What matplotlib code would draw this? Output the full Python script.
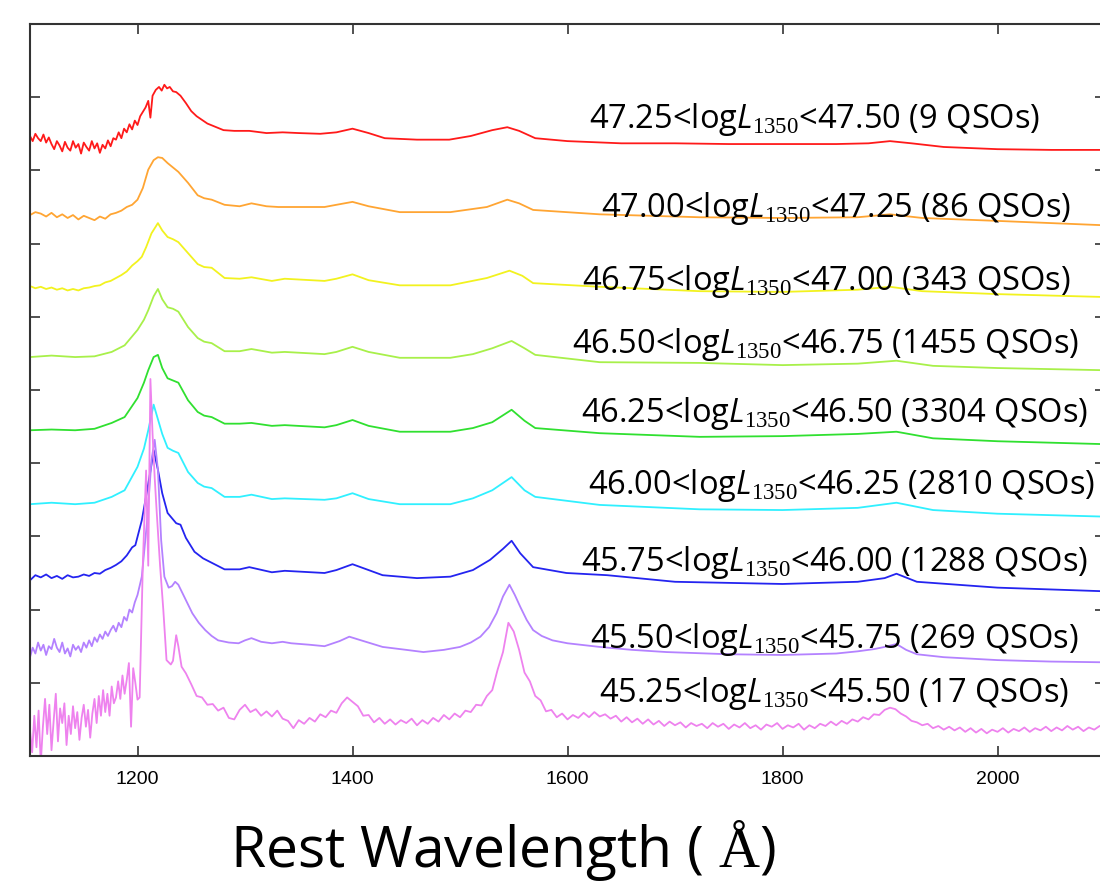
import numpy as np
import matplotlib.pyplot as plt

plt.rcParams['mathtext.fontset'] = 'custom'
plt.rcParams['mathtext.rm'] = 'Liberation Serif'
plt.rcParams['mathtext.it'] = 'Open Sans:italic'
plt.rcParams['mathtext.bf'] = 'Liberation Serif:bold'

# luminosity bins (top to bottom) and number of quasars in each
bin_lo = ["47.25", "47.00", "46.75", "46.50", "46.25", "46.00", "45.75", "45.50", "45.25"]
bin_hi = ["47.50", "47.25", "47.00", "46.75", "46.50", "46.25", "46.00", "45.75", "45.50"]
n_qso = [9, 86, 343, 1455, 3304, 2810, 1288, 269, 17]
colors = ['#ff1a1a', '#ffa533', '#f2f21f', '#a8f04a', '#30e030',
          '#30f0ff', '#2424f0', '#b482ff', '#ee82ee']

# label anchor (right end wavelength, baseline in offset flux units)
label_wave = [2040, 2068, 2068, 2076, 2084, 2091, 2084, 2075, 2066]
label_flux = [8.58, 7.36, 6.37, 5.51, 4.56, 3.58, 2.53, 1.48, 0.74]

# ---- composite spectra, offset flux ----
# red: noisy blue side, step 2.5 A from 1100 to 1210
red_blue = [8.47, 8.40, 8.50, 8.44, 8.40, 8.49, 8.38, 8.45, 8.36, 8.29,
            8.40, 8.34, 8.26, 8.39, 8.31, 8.27, 8.40, 8.31, 8.36, 8.23,
            8.38, 8.32, 8.27, 8.40, 8.30, 8.37, 8.24, 8.35, 8.30, 8.41,
            8.33, 8.44, 8.42, 8.52, 8.44, 8.57, 8.52, 8.63, 8.56, 8.68,
            8.62, 8.74, 8.80, 8.86, 8.95]
red_w = [1212, 1214, 1217, 1220, 1222.5, 1225, 1227.5, 1230, 1233, 1236, 1240, 1245,
         1250, 1255, 1260, 1265, 1270, 1280, 1290, 1304, 1320, 1335, 1350, 1370, 1385,
         1400, 1415, 1430, 1460, 1490, 1510, 1530, 1544, 1555, 1570, 1600, 1650, 1700,
         1750, 1800, 1850, 1880, 1900, 1920, 1950, 2000, 2050, 2100]
red_f = [8.72, 9.02, 9.10, 9.14, 9.09, 9.17, 9.12, 9.14, 9.08, 9.07, 9.02, 8.92,
         8.81, 8.74, 8.69, 8.64, 8.61, 8.55, 8.54, 8.54, 8.51, 8.52, 8.51, 8.50, 8.52,
         8.57, 8.51, 8.44, 8.42, 8.42, 8.47, 8.55, 8.59, 8.54, 8.44, 8.40, 8.37, 8.37,
         8.36, 8.36, 8.36, 8.37, 8.40, 8.37, 8.32, 8.29, 8.28, 8.28]

# orange: blue side step 5 A from 1100 to 1195
orange_blue = [7.39, 7.43, 7.41, 7.37, 7.42, 7.36, 7.40, 7.35, 7.39, 7.33,
               7.38, 7.35, 7.32, 7.37, 7.34, 7.40, 7.42, 7.45, 7.50, 7.53]
orange_w = [1200, 1205, 1210, 1215, 1219, 1223, 1228, 1233, 1238, 1247, 1256, 1262,
            1269, 1281, 1295, 1306, 1320, 1331, 1350, 1374, 1385, 1400, 1415, 1444,
            1491, 1525, 1544, 1555, 1568, 1630, 1723, 1800, 1870, 1900, 1930, 2000, 2100]
orange_f = [7.60, 7.76, 8.01, 8.14, 8.18, 8.17, 8.10, 8.04, 7.98, 7.83, 7.66, 7.62,
            7.60, 7.53, 7.51, 7.55, 7.51, 7.50, 7.50, 7.50, 7.53, 7.57, 7.51, 7.43,
            7.43, 7.50, 7.60, 7.55, 7.46, 7.40, 7.36, 7.35, 7.36, 7.40, 7.35, 7.31, 7.25]

# yellow: blue side step 5 A from 1100 to 1195
yellow_blue = [6.42, 6.39, 6.41, 6.38, 6.40, 6.37, 6.39, 6.36, 6.38, 6.36,
               6.39, 6.40, 6.42, 6.43, 6.47, 6.49, 6.53, 6.57, 6.62, 6.70]
yellow_w = [1200, 1204, 1208, 1213, 1219, 1223, 1228, 1233, 1238, 1247, 1256, 1262,
            1269, 1281, 1295, 1306, 1325, 1337, 1374, 1385, 1400, 1415, 1444, 1491,
            1525, 1546, 1558, 1568, 1630, 1723, 1800, 1870, 1900, 1930, 2000, 2100]
yellow_f = [6.76, 6.82, 6.95, 7.14, 7.28, 7.18, 7.09, 7.06, 7.02, 6.87, 6.72, 6.68,
            6.67, 6.53, 6.52, 6.54, 6.49, 6.52, 6.49, 6.52, 6.58, 6.50, 6.43, 6.43,
            6.53, 6.63, 6.56, 6.46, 6.41, 6.35, 6.34, 6.37, 6.41, 6.35, 6.31, 6.27]

# common wavelengths for the three smooth middle spectra
mid_w = [1100, 1120, 1142, 1160, 1176, 1188, 1200, 1206, 1210, 1215, 1219, 1223, 1228,
         1233, 1238, 1247, 1256, 1262, 1269, 1281, 1295, 1306, 1325, 1337, 1374, 1385,
         1400, 1415, 1444, 1491, 1512, 1530, 1548, 1560, 1570, 1630, 1723, 1800, 1870,
         1906, 1940, 2000, 2100]
ygreen_f = [5.45, 5.47, 5.45, 5.46, 5.52, 5.61, 5.82, 5.96, 6.09, 6.28, 6.38, 6.24, 6.13,
            6.11, 6.07, 5.86, 5.71, 5.66, 5.64, 5.53, 5.53, 5.56, 5.51, 5.52, 5.49, 5.52,
            5.59, 5.52, 5.44, 5.44, 5.49, 5.57, 5.67, 5.57, 5.48, 5.38, 5.37, 5.34, 5.36,
            5.40, 5.33, 5.30, 5.27]
green_f = [4.45, 4.46, 4.45, 4.47, 4.55, 4.63, 4.89, 5.10, 5.27, 5.45, 5.48, 5.30, 5.16,
           5.13, 5.10, 4.86, 4.70, 4.65, 4.63, 4.54, 4.54, 4.55, 4.51, 4.52, 4.49, 4.52,
           4.59, 4.51, 4.43, 4.43, 4.48, 4.56, 4.73, 4.58, 4.48, 4.41, 4.36, 4.37, 4.40,
           4.43, 4.34, 4.30, 4.26]
cyan_f = [3.44, 3.46, 3.44, 3.46, 3.54, 3.63, 3.95, 4.20, 4.45, 4.80, 4.60, 4.40, 4.21,
          4.17, 4.14, 3.88, 3.73, 3.68, 3.66, 3.54, 3.54, 3.57, 3.51, 3.52, 3.50, 3.52,
          3.59, 3.51, 3.44, 3.44, 3.52, 3.63, 3.81, 3.63, 3.54, 3.43, 3.37, 3.36, 3.39,
          3.46, 3.36, 3.31, 3.27]

# blue: blue side step 5 A from 1100 to 1195
blue_blue = [2.40, 2.47, 2.44, 2.48, 2.43, 2.46, 2.42, 2.47, 2.44, 2.45,
             2.48, 2.46, 2.50, 2.49, 2.54, 2.57, 2.61, 2.66, 2.74, 2.85]
blue_w = [1198, 1204, 1209, 1213, 1215, 1219, 1223, 1228, 1236, 1240, 1245, 1253, 1261,
          1269, 1281, 1295, 1304, 1325, 1337, 1374, 1385, 1400, 1415, 1428, 1460, 1491,
          1512, 1528, 1540, 1548, 1556, 1568, 1599, 1637, 1700, 1800, 1870, 1895, 1906,
          1925, 2000, 2100]
blue_f = [2.88, 3.22, 3.63, 3.98, 4.18, 3.91, 3.59, 3.32, 3.18, 3.16, 2.98, 2.79, 2.70,
          2.64, 2.55, 2.55, 2.58, 2.51, 2.53, 2.50, 2.54, 2.62, 2.54, 2.47, 2.43, 2.45,
          2.54, 2.68, 2.83, 2.94, 2.77, 2.58, 2.50, 2.47, 2.38, 2.35, 2.38, 2.43, 2.49,
          2.38, 2.30, 2.25]

# purple: noisy blue side step 2.5 A from 1100 to 1200
purple_blue = [1.35, 1.48, 1.40, 1.55, 1.44, 1.52, 1.38, 1.50, 1.46, 1.60,
               1.48, 1.42, 1.55, 1.40, 1.47, 1.36, 1.52, 1.45, 1.50, 1.42,
               1.55, 1.48, 1.58, 1.50, 1.62, 1.56, 1.66, 1.60, 1.70, 1.64,
               1.72, 1.78, 1.70, 1.82, 1.76, 1.90, 1.85, 2.00, 1.96, 2.10, 2.20]
purple_w = [1204, 1209, 1213, 1216, 1219, 1222, 1225, 1229, 1232, 1235, 1238, 1242, 1245,
            1251, 1257, 1263, 1269, 1275, 1285, 1294, 1300, 1306, 1315, 1325, 1335, 1343,
            1360, 1374, 1388, 1397, 1408, 1428, 1450, 1466, 1485, 1500, 1510, 1519, 1527,
            1534, 1540, 1546, 1551, 1556, 1562, 1568, 1576, 1586, 1600, 1630, 1660, 1692,
            1750, 1800, 1850, 1870, 1885, 1895, 1906, 1915, 1925, 1950, 2000, 2050, 2100]
purple_f = [2.45, 3.22, 4.04, 4.32, 3.91, 2.95, 2.45, 2.30, 2.32, 2.38, 2.34, 2.22, 2.13,
            1.95, 1.82, 1.72, 1.64, 1.58, 1.55, 1.54, 1.58, 1.61, 1.56, 1.54, 1.56, 1.54,
            1.52, 1.50, 1.57, 1.63, 1.58, 1.49, 1.45, 1.42, 1.45, 1.49, 1.55, 1.63, 1.76,
            1.95, 2.18, 2.34, 2.20, 2.04, 1.86, 1.72, 1.64, 1.58, 1.54, 1.49, 1.45, 1.42,
            1.39, 1.38, 1.40, 1.43, 1.46, 1.49, 1.53, 1.45, 1.39, 1.35, 1.31, 1.29, 1.28]

# pink: very noisy, step 2 A from 1100 to 1200
pink_blue = [0.35, 0.05, 0.55, 0.12, 0.62, -0.10, 0.40, 0.78, 0.30, 0.70,
             0.08, 0.48, 0.85, 0.20, 0.65, 0.45, 0.72, 0.15, 0.55, 0.30,
             0.68, 0.38, 0.60, 0.22, 0.52, 0.70, 0.40, 0.63, 0.25, 0.58,
             0.78, 0.45, 0.82, 0.55, 0.90, 0.60, 0.85, 0.55, 0.95, 0.72,
             0.80, 1.02, 0.78, 1.10, 0.85, 1.04, 1.27, 0.40, 1.20, 1.00, 0.77]
pink_lya_w = [1202, 1205, 1208, 1210, 1212, 1214, 1216, 1218, 1221, 1224, 1227, 1231,
              1233, 1236, 1238, 1241]
pink_lya_f = [0.80, 2.64, 3.90, 2.60, 5.15, 4.40, 3.80, 3.30, 2.60, 2.00, 1.31, 1.25,
              1.30, 1.65, 1.50, 1.22]
# step 5 A from 1245 to 2100
pink_red = [1.13, 0.98, 0.82, 0.80, 0.70, 0.71, 0.62, 0.66, 0.52, 0.50,
            0.63, 0.70, 0.60, 0.64, 0.55, 0.61, 0.54, 0.62, 0.51, 0.48,
            0.38, 0.49, 0.44, 0.52, 0.47, 0.57, 0.53, 0.62, 0.59, 0.72,
            0.80, 0.74, 0.68, 0.55, 0.56, 0.46, 0.52, 0.44, 0.50, 0.43,
            0.49, 0.45, 0.51, 0.42, 0.49, 0.44, 0.52, 0.47, 0.56, 0.50,
            0.58, 0.53, 0.62, 0.60, 0.70, 0.69, 0.82, 0.90, 1.18, 1.42,
            1.82, 1.70, 1.45, 1.14, 1.02, 0.82, 0.76, 0.61, 0.63, 0.53,
            0.58, 0.50, 0.56, 0.52, 0.59, 0.53, 0.60, 0.54, 0.57, 0.51,
            0.55, 0.47, 0.53, 0.46, 0.51, 0.44, 0.50, 0.43, 0.48, 0.41,
            0.47, 0.42, 0.46, 0.39, 0.45, 0.41, 0.44, 0.38, 0.45, 0.40,
            0.44, 0.37, 0.43, 0.39, 0.45, 0.38, 0.42, 0.36, 0.43, 0.40,
            0.45, 0.37, 0.42, 0.39, 0.44, 0.36, 0.42, 0.38, 0.44, 0.41,
            0.47, 0.42, 0.48, 0.44, 0.50, 0.47, 0.53, 0.50, 0.57, 0.56,
            0.63, 0.66, 0.64, 0.58, 0.54, 0.48, 0.46, 0.42, 0.44, 0.38,
            0.41, 0.36, 0.40, 0.35, 0.39, 0.33, 0.38, 0.32, 0.37, 0.31,
            0.36, 0.33, 0.38, 0.32, 0.37, 0.34, 0.39, 0.33, 0.38, 0.35,
            0.40, 0.34, 0.39, 0.35, 0.41, 0.36, 0.40, 0.34, 0.39, 0.36,
            0.41, 0.37]

spectra = [
    (np.r_[np.arange(1100, 1211, 2.5), red_w], np.r_[red_blue, red_f]),
    (np.r_[np.arange(1100, 1196, 5), orange_w], np.r_[orange_blue, orange_f]),
    (np.r_[np.arange(1100, 1196, 5), yellow_w], np.r_[yellow_blue, yellow_f]),
    (np.array(mid_w), np.array(ygreen_f)),
    (np.array(mid_w), np.array(green_f)),
    (np.array(mid_w), np.array(cyan_f)),
    (np.r_[np.arange(1100, 1196, 5), blue_w], np.r_[blue_blue, blue_f]),
    (np.r_[np.arange(1100, 1201, 2.5), purple_w], np.r_[purple_blue, purple_f]),
    (np.r_[np.arange(1100, 1201, 2), pink_lya_w, np.arange(1245, 2101, 5)],
     np.r_[pink_blue, pink_lya_f, pink_red]),
]

fig = plt.figure(figsize=(11, 8.82), dpi=100)
ax = fig.add_axes([30 / 1100, 126 / 882, 1075 / 1100, 732 / 882])

for (w, f), c in zip(spectra, colors):
    ax.plot(w, f, color=c, lw=1.3)

for lo, hi, n, xw, yf in zip(bin_lo, bin_hi, n_qso, label_wave, label_flux):
    ax.text(xw, yf, lo + r"<log$\mathit{L}_{1350}$<" + hi + " (%d QSOs)" % n,
            ha='right', va='baseline', fontsize=23.5, family='Open Sans', zorder=5)

ax.set_xlim(1100, 2100)
ax.set_ylim(0, 10)
ax.set_xticks([1200, 1400, 1600, 1800, 2000])
ax.set_yticks(range(1, 10))
ax.set_yticklabels([])
ax.tick_params(direction='in', top=True, right=True, length=7, width=1.2,
               color='#333333', labelsize=14, pad=11)
for lab in ax.get_xticklabels():
    lab.set_family('Liberation Sans')
for sp in ax.spines.values():
    sp.set_linewidth(1.5)
    sp.set_color('#333333')

fig.text(0.457, 0.0165, r"Rest Wavelength ( $\mathrm{\AA}$)", ha='center',
         va='baseline', fontsize=41, family='Open Sans')

fig.savefig('out.png', dpi=100)
